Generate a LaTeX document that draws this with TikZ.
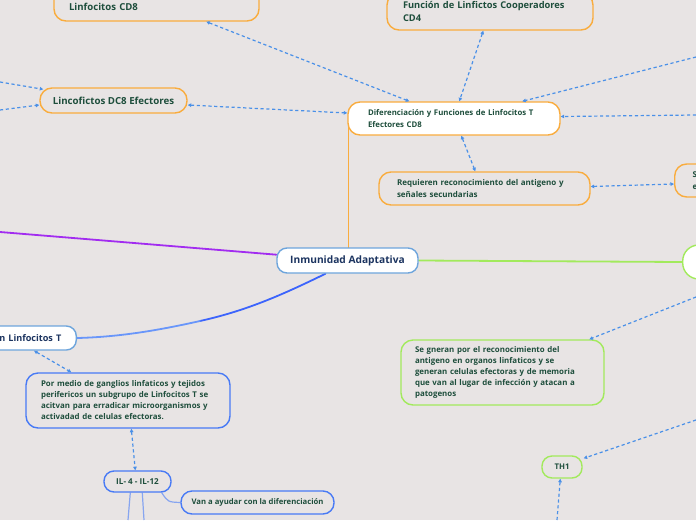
\documentclass[tikz,border=0pt]{standalone}
\usepackage{fontspec}
\setmainfont{Open Sans}
\usetikzlibrary{arrows.meta}
\pgfdeclarelayer{bgfill}
\pgfdeclarelayer{lines}
\pgfsetlayers{bgfill,lines,main}
\definecolor{bg}{RGB}{232,228,228}
\definecolor{orng}{RGB}{249,172,62}
\definecolor{grn}{RGB}{162,234,92}
\definecolor{blu}{RGB}{72,122,245}
\definecolor{lblu}{RGB}{110,165,220}
\definecolor{pale}{RGB}{135,165,240}
\definecolor{dsh}{RGB}{74,144,232}
\definecolor{tgreen}{RGB}{30,78,60}
\definecolor{tnavy}{RGB}{28,52,96}
\definecolor{purp}{RGB}{162,44,240}
\definecolor{cblue}{RGB}{60,100,252}
\definecolor{cblue2}{RGB}{105,150,250}
\tikzset{
  box/.style={draw, rounded corners=12pt, line width=1.4pt, font=\bfseries, text=tgreen, inner ysep=0pt, align=left},
  obox/.style={box, draw=orng},
  gbox/.style={box, draw=grn},
  bbox/.style={box, draw=blu},
  tip/.tip={Triangle[length=3.5pt,width=3.5pt]},
  dcon/.style={draw=dsh, line width=1.2pt, dash pattern=on 3.2pt off 2.6pt},
  both/.style={dcon, tip-tip},
  one/.style={dcon, -tip},
  branch/.style={line width=1.8pt, line cap=round},
}
\begin{document}
\begin{tikzpicture}[x=1pt,y=-1pt]
\useasboundingbox (0,0) rectangle (696,520);
\begin{pgfonlayer}{bgfill}
\fill[bg] (0,0) rectangle (696,520);
\end{pgfonlayer}

% nodes
\node[obox, minimum width=205pt, minimum height=33pt, text width=175pt, inner xsep=15pt, font=\bfseries\fontsize{9.6}{12}\selectfont] (n1) at (156.5,4.5) {\mbox{}\\Linfocitos CD8};
\node[obox, minimum width=206pt, minimum height=37pt, text width=174pt, inner xsep=16pt, font=\bfseries\fontsize{9.3}{13}\selectfont] (n2) at (490,11.5) {Función de Linfictos Cooperadores\\CD4};
\node[obox, minimum width=147pt, minimum height=25pt, align=center, font=\bfseries\fontsize{9.7}{11}\selectfont] (n3) at (113.5,100.5) {Lincofictos DC8 Efectores};
\node[obox, fill=white, minimum width=212pt, minimum height=33pt, text width=172pt, inner xsep=20pt, font=\bfseries\fontsize{7.8}{12}\selectfont] (n4) at (454,118.5) {Diferenciación y Funciones de Linfocitos T\\Efectores CD8};
\node[obox, minimum width=211pt, minimum height=33pt, text width=175pt, inner xsep=18pt, font=\bfseries\fontsize{8}{12}\selectfont] (n5) at (484.5,188.5) {Requieren reconocimiento del antigeno y\\señales secundarias};
\node[obox, anchor=west, minimum width=100pt, minimum height=33pt, text width=82pt, inner xsep=18pt, font=\bfseries\fontsize{8}{12}\selectfont] (n6) at (674,180.5) {S\\e};
\node[box, draw=lblu, fill=white, rounded corners=10pt, minimum width=141pt, minimum height=25pt, align=center, text=tnavy, font=\bfseries\fontsize{10.2}{11}\selectfont] (c) at (347.5,260.5) {Inmunidad Adaptativa};
\node[gbox, fill=white, anchor=west, rounded corners=16pt, minimum width=60pt, minimum height=34pt] (g) at (682,262) {};
\node[bbox, draw=lblu, fill=white, anchor=east, rounded corners=10pt, minimum width=130pt, minimum height=24pt, text width=100pt, inner xsep=15pt, align=right, text=tnavy, font=\bfseries\fontsize{9.1}{11}\selectfont] (lt) at (77,338) {n Linfocitos T};
\node[bbox, minimum width=204pt, minimum height=55pt, text width=174pt, inner xsep=15pt, font=\bfseries\fontsize{7.9}{11}\selectfont] (por) at (128,400.5) {Por medio de ganglios linfaticos y tejidos\\perifericos un subgrupo de Linfocitos T se\\acitvan para erradicar microorganismos y\\activadad de celulas efectoras.};
\node[bbox, rounded corners=10pt, minimum width=67pt, minimum height=21pt, align=center, font=\bfseries\fontsize{8.1}{10}\selectfont] (il) at (137.5,481.5) {IL- 4 - IL-12};
\node[bbox, rounded corners=11pt, minimum width=153pt, minimum height=23pt, align=center, font=\bfseries\fontsize{7.7}{10}\selectfont] (van) at (257.5,502.5) {Van a ayudar con la diferenciación};
\node[gbox, minimum width=203pt, minimum height=65pt, text width=175pt, inner xsep=14pt, font=\bfseries\fontsize{7.9}{11}\selectfont] (se) at (502.5,372.5) {Se gneran por el reconocimiento del\\antigeno en organos linfaticos y se\\generan celulas efectoras y de memoria\\que van al lugar de infección y atacan a\\patogenos};
\node[gbox, rounded corners=10pt, minimum width=40pt, minimum height=22pt, align=center, font=\bfseries\fontsize{7.8}{10}\selectfont] (th) at (562,467) {TH1};

% free ends
\coordinate (f1) at (0,82);
\coordinate (f2) at (0,110);
\coordinate (f3) at (696,57);
\coordinate (f4) at (696,115);
\coordinate (f5) at (696,297);
\coordinate (f6) at (696,420);
\coordinate (f7) at (557,520);
\coordinate (f8) at (0,232);
\coordinate (f9) at (128,520);
\coordinate (f10) at (144,520);
\coordinate (ot) at (348.5,122);
\coordinate (ob) at (348.5,250);
\coordinate (bm) at (200,321);

% solid branches (behind nodes)
\begin{pgfonlayer}{lines}
\draw[branch, draw=orng, line width=1.7pt] (ob) -- (ot);
\draw[branch, draw=purp] (f8) -- (c);
\draw[branch, draw=grn] (c.east) -- (g.west);
\draw[branch, draw=cblue] ([xshift=-22pt]c.south) .. controls (280,296) and (245,311) .. (bm);
\draw[branch, draw=cblue2] (bm) .. controls (160,330) and (120,337) .. (lt.east);
\draw[pale, line width=1.2pt] ([xshift=27pt]il.south west) -- (f9);
\draw[pale, line width=1.2pt] ([xshift=39pt]il.south west) -- (f10);
\draw[pale, line width=1.2pt] ([xshift=-10pt]il.south east) .. controls (168,502) .. (van.west);
\end{pgfonlayer}

% dashed connectors
\draw[both] ([xshift=153pt]n1.south west) -- ([xshift=62pt]n4.north west);
\draw[one] (f1) -- ([xshift=4pt,yshift=-2pt]n3.north west);
\draw[one] (f2) -- ([yshift=-4.5pt]n3.west);
\draw[both] ([yshift=-4.5pt]n3.east) -- ([yshift=5.5pt]n4.west);
\draw[both] ([xshift=97pt]n2.south west) -- ([xshift=112pt]n4.north west);
\draw[one] (f3) -- ([xshift=175pt]n4.north west);
\draw[one] (f4) -- ([yshift=2pt]n4.east);
\draw[both] ([xshift=114pt]n4.south west) -- ([xshift=97pt]n5.north west);
\draw[both] ([yshift=2pt]n5.east) -- ([yshift=-3.5pt]n6.west);
\draw[one] (f5) -- ([xshift=189pt]se.north west);
\draw[one] (f6) -- ([xshift=1pt,yshift=-3pt]th.north east);
\draw[one] (f7) -- ([xshift=19pt]th.south west);
\draw[both] ([xshift=-43pt]lt.south east) -- ([xshift=46pt]por.north west);
\draw[both] ([xshift=106pt]por.south west) -- ([xshift=32pt]il.north west);
\end{tikzpicture}
\end{document}
